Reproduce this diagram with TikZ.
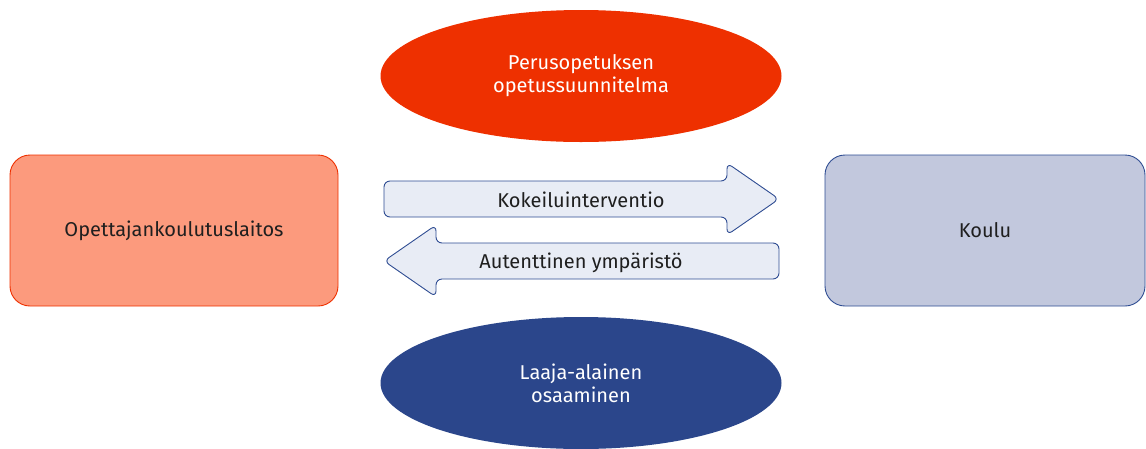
\documentclass[tikz,border=0pt]{standalone}
\usepackage{fontspec}
\setmainfont{Fira Sans}
\usetikzlibrary{shapes.geometric}
\definecolor{redo}{HTML}{EE3000}
\definecolor{salmon}{HTML}{FC9A7D}
\definecolor{navy}{HTML}{2B468B}
\definecolor{lav}{HTML}{C2C8DD}
\definecolor{pale}{HTML}{E8ECF5}
\definecolor{blueline}{HTML}{2E4C92}
\tikzset{
  lbl/.style={font=\fontsize{20}{23}\selectfont, text=black!88, align=center},
  wlbl/.style={font=\fontsize{20}{23}\selectfont, text=white, align=center},
  oval/.style={ellipse, minimum width=401pt, minimum height=132pt, inner sep=0pt},
  boxn/.style={rounded corners=20pt, minimum width=328pt, minimum height=151pt, line width=0.9pt},
  barrow/.style={fill=pale, draw=blueline, line width=0.9pt, rounded corners=6pt}
}
\begin{document}
\begin{tikzpicture}[x=1pt,y=-1pt]
\useasboundingbox (0,0) rectangle (1146,448);
\node[oval, fill=redo, wlbl] (ops) at (581,76) {Perusopetuksen\\opetussuunnitelma};
\node[oval, fill=navy, wlbl] (laaja) at (581,383) {Laaja-alainen\\osaaminen};
\node[boxn, fill=salmon, draw=redo, lbl] (okl) at (174,230.5) {Opettajankoulutuslaitos};
\node[boxn, fill=lav, draw=blueline, minimum width=320pt, lbl] (koulu) at (985,230.5) {Koulu};
% right arrow
\draw[barrow] (384,199) -- (384,181) -- (727,181) -- (727,163) -- (779,199) -- (727,235) -- (727,217) -- (384,217) -- cycle;
\node[lbl] (koke) at (581,200) {Kokeiluinterventio};
% left arrow
\draw[barrow] (779,261) -- (779,279) -- (436,279) -- (436,297) -- (384,261) -- (436,225) -- (436,243) -- (779,243) -- cycle;
\node[lbl] (aut) at (581,263) {Autenttinen ympäristö};
\end{tikzpicture}
\end{document}
